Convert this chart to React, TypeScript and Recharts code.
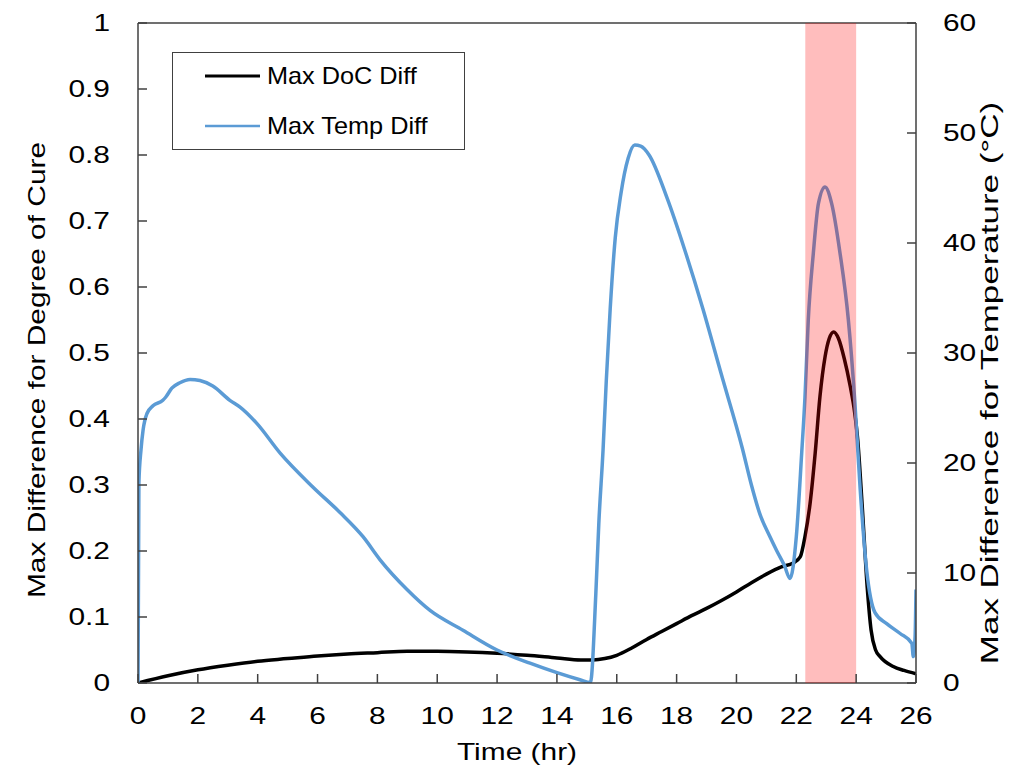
import { LineChart, Line, XAxis, YAxis, ReferenceArea, ReferenceLine, Legend } from 'recharts';

const FONT = '"Liberation Sans", Arial, Helvetica, sans-serif';
const AXIS = '#404040';
const SX = 1.3; // the original text is drawn wide
const TICK = 9;
const LEFT_GAP = 28;
const RIGHT_GAP = 27;
const BOTTOM_GAP = 33;

// Max DoC Diff (left axis)
const docTime = [0, 1, 2, 3, 4, 5, 6, 7, 8, 9, 10, 11, 12, 13, 14, 14.8, 15.2, 15.6, 16, 16.5, 17, 17.5, 18, 18.5, 19, 19.5, 20, 20.5, 21, 21.5, 21.9, 22.13, 22.29, 22.46, 22.63, 22.79, 22.96, 23.1, 23.25, 23.41, 23.6, 23.8, 23.95, 24.05, 24.2, 24.37, 24.5, 24.65, 24.8, 25.24, 25.6, 26];
const docDiff = [0, 0.011, 0.02, 0.027, 0.033, 0.037, 0.041, 0.044, 0.046, 0.048, 0.048, 0.047, 0.045, 0.042, 0.038, 0.035, 0.035, 0.037, 0.042, 0.053, 0.066, 0.078, 0.09, 0.102, 0.113, 0.125, 0.138, 0.152, 0.165, 0.176, 0.182, 0.191, 0.222, 0.272, 0.348, 0.434, 0.494, 0.522, 0.532, 0.522, 0.492, 0.45, 0.41, 0.37, 0.27, 0.145, 0.08, 0.05, 0.04, 0.025, 0.019, 0.014];

// Max Temp Diff (right axis, °C)
const tempTime = [0, 0.03, 0.1, 0.17, 0.3, 0.5, 0.83, 0.93, 1.13, 1.4, 1.74, 2.07, 2.5, 3.07, 3.4, 3.97, 4.75, 5.85, 6.75, 7.52, 8.09, 8.99, 9.76, 10.86, 12, 13.1, 14.77, 15.12, 15.3, 15.4, 15.54, 15.65, 15.78, 15.95, 16.14, 16.38, 16.6, 16.8, 17.08, 17.68, 18.28, 18.88, 19.48, 20.2, 20.5, 20.79, 21.1, 21.35, 21.6, 21.79, 22, 22.18, 22.29, 22.4, 22.57, 22.74, 22.96, 23.18, 23.46, 23.74, 23.96, 24.13, 24.35, 24.63, 25.02, 25.47, 25.86, 25.91, 25.97, 26];
const tempDiff = [0, 18.2, 21.2, 23.0, 24.5, 25.2, 25.7, 26.0, 26.8, 27.3, 27.6, 27.5, 27.0, 25.7, 25.1, 23.6, 20.9, 17.8, 15.5, 13.3, 11.2, 8.5, 6.6, 4.8, 3.0, 1.8, 0.3, 0.05, 8.1, 14.5, 21.1, 27.5, 34.0, 40.5, 44.5, 47.7, 48.9, 48.8, 48.0, 44.1, 39.3, 34.0, 28.2, 21.3, 18.0, 15.3, 13.4, 12.0, 10.7, 9.5, 13.3, 20.9, 26.0, 33.0, 39.1, 43.6, 45.1, 43.6, 39.1, 33.0, 25.4, 17.8, 10.3, 6.4, 5.4, 4.5, 3.6, 2.4, 4.2, 8.5];

// shaded window (hr)
const shadeStart = 22.3;
const shadeEnd = 24;

const xTicks = [0, 2, 4, 6, 8, 10, 12, 14, 16, 18, 20, 22, 24, 26];
const docTicks = [0, 0.1, 0.2, 0.3, 0.4, 0.5, 0.6, 0.7, 0.8, 0.9, 1];
const tempTicks = [0, 10, 20, 30, 40, 50, 60];

const docData = docTime.map((t, i) => ({ t, doc: docDiff[i] }));
const tempData = tempTime.map((t, i) => ({ t, temp: tempDiff[i] }));

function tickText(x: number, y: number, value: any, anchor: string) {
  return (
    <text
      transform={`translate(${x},${y}) scale(${SX},1)`}
      textAnchor={anchor}
      dominantBaseline="central"
      fontSize={23}
      fontFamily={FONT}
      fill="#000"
    >
      {value}
    </text>
  );
}

function LeftTick({ x, y, payload }: any) {
  return (
    <g>
      <line x1={x + LEFT_GAP} x2={x + LEFT_GAP + TICK} y1={y} y2={y} stroke={AXIS} strokeWidth={1.5} />
      {tickText(x, y, payload.value, 'end')}
    </g>
  );
}

function RightTick({ x, y, payload }: any) {
  return (
    <g>
      <line x1={x - RIGHT_GAP} x2={x - RIGHT_GAP - TICK} y1={y} y2={y} stroke={AXIS} strokeWidth={1.5} />
      {tickText(x, y, payload.value, 'start')}
    </g>
  );
}

function BottomTick({ x, y, payload }: any) {
  return (
    <g>
      <line x1={x} x2={x} y1={y - BOTTOM_GAP} y2={y - BOTTOM_GAP - TICK} stroke={AXIS} strokeWidth={1.5} />
      {tickText(x, y, payload.value, 'middle')}
    </g>
  );
}

function axisTitle(text: string, dx: number, dy: number, rotate: number, sx: number = SX) {
  return ({ viewBox }: any) => {
    const vb = viewBox || { x: 0, y: 0, width: 0, height: 0 };
    const cx = vb.x + dx;
    const cy = vb.y + dy;
    return (
      <text
        transform={`translate(${cx},${cy}) rotate(${rotate}) scale(${sx},1)`}
        textAnchor="middle"
        dominantBaseline="central"
        fontSize={23}
        fontFamily={FONT}
        fill="#000"
      >
        {text}
      </text>
    );
  };
}

function LegendBox({ payload }: any) {
  const items = payload || [];
  return (
    <div style={{ width: 293, height: 98, border: `1px solid ${AXIS}`, background: '#fff', boxSizing: 'border-box' }}>
      <svg width={291} height={96} style={{ display: 'block' }}>
        {items.map((p: any, i: number) => (
          <g key={p.value} transform={`translate(0,${23 + i * 50})`}>
            <line x1={32} x2={87} y1={0} y2={0} stroke={p.color} strokeWidth={i === 0 ? 3 : 2.5} />
            <text
              transform={`translate(94,0) scale(1.1,1)`}
              dominantBaseline="central"
              fontSize={23}
              fontFamily={FONT}
              fill="#000"
            >
              {p.value}
            </text>
          </g>
        ))}
      </svg>
    </div>
  );
}

export default function App() {
  return (
    <div style={{ position: 'absolute', left: 0, top: 0, background: '#fff' }}>
      <LineChart width={1035} height={773} margin={{ top: 23, right: 0, bottom: 0, left: 0 }}>
        <XAxis
          dataKey="t"
          type="number"
          domain={[0, 26]}
          ticks={xTicks}
          interval={0}
          allowDataOverflow
          height={90}
          tickSize={0}
          tickMargin={BOTTOM_GAP}
          tickLine={false}
          axisLine={{ stroke: AXIS, strokeWidth: 1.5 }}
          tick={(props: any) => <BottomTick {...props} />}
          label={{ content: axisTitle('Time (hr)', 379, 69, 0) }}
        />
        <YAxis
          yAxisId="doc"
          orientation="left"
          domain={[0, 1]}
          ticks={docTicks}
          interval={0}
          allowDataOverflow
          width={138}
          tickSize={0}
          tickMargin={LEFT_GAP}
          tickLine={false}
          axisLine={{ stroke: AXIS, strokeWidth: 1.5 }}
          tick={(props: any) => <LeftTick {...props} />}
          label={{ content: axisTitle('Max Difference for Degree of Cure', 37, 347, -90) }}
        />
        <YAxis
          yAxisId="temp"
          orientation="right"
          domain={[0, 60]}
          ticks={tempTicks}
          interval={0}
          allowDataOverflow
          width={119}
          tickSize={0}
          tickMargin={RIGHT_GAP}
          tickLine={false}
          axisLine={{ stroke: AXIS, strokeWidth: 1.5 }}
          tick={(props: any) => <RightTick {...props} />}
          label={{ content: axisTitle('Max Difference for Temperature (°C)', 74, 360, -90, 1.52) }}
        />
        <ReferenceLine yAxisId="doc" y={1} stroke={AXIS} strokeWidth={1.5} />
        <Line
          yAxisId="doc"
          data={docData}
          dataKey="doc"
          name="Max DoC Diff"
          type="monotone"
          stroke="#000000"
          strokeWidth={3.5}
          dot={false}
          activeDot={false}
          isAnimationActive={false}
        />
        <Line
          yAxisId="temp"
          data={tempData}
          dataKey="temp"
          name="Max Temp Diff"
          type="monotone"
          stroke="#5B9BD5"
          strokeWidth={3.5}
          dot={false}
          activeDot={false}
          isAnimationActive={false}
        />
        <ReferenceArea
          yAxisId="doc"
          x1={shadeStart}
          x2={shadeEnd}
          y1={0}
          y2={1}
          fill="#ff0000"
          fillOpacity={0.26}
          stroke="none"
          zIndex={1000}
        />
        <Legend
          layout="vertical"
          align="center"
          verticalAlign="middle"
          content={(props: any) => <LegendBox {...props} />}
          wrapperStyle={{ left: 172, top: 52, width: 293, height: 98 }}
        />
      </LineChart>
    </div>
  );
}
